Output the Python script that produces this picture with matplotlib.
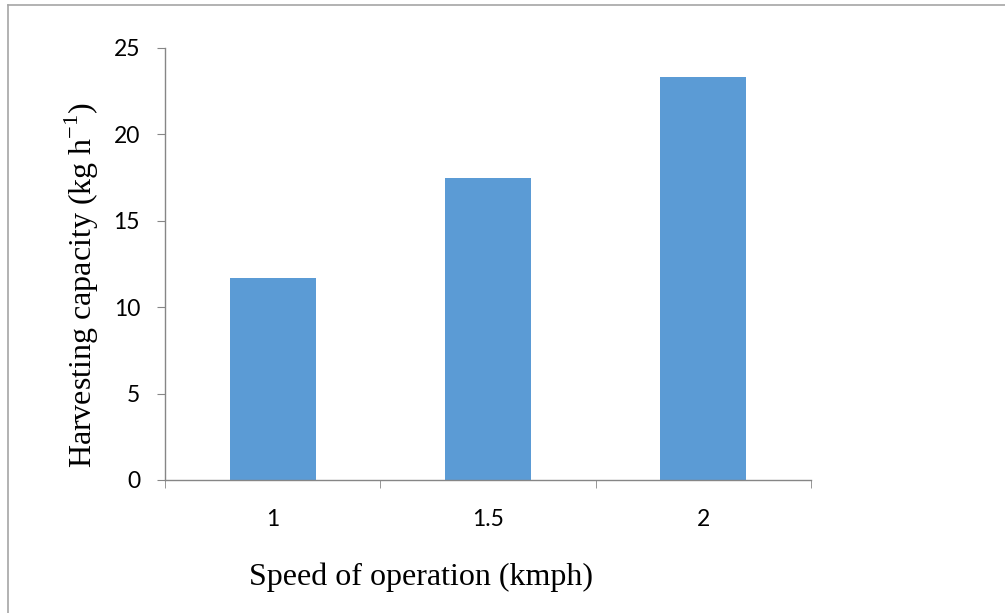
import matplotlib.pyplot as plt
from matplotlib.lines import Line2D

# ===== DATA =====
speeds = ["1", "1.5", "2"]
capacity = [11.7, 17.5, 23.3]
y_ticks = [0, 5, 10, 15, 20, 25]

# ===== FIGURE =====
W, H = 1005, 613
fig = plt.figure(figsize=(W / 100, H / 100), dpi=100)
ax = fig.add_axes([165 / W, 1 - 480 / H, (811 - 165) / W, (480 - 48) / H])

positions = list(range(len(speeds)))
ax.bar(positions, capacity, width=0.4, color="#5B9BD5", zorder=2)

ax.set_xlim(-0.5, len(speeds) - 0.5)
ax.set_ylim(0, 25)
ax.set_yticks(y_ticks)
ax.set_xticks(positions)
ax.set_xticklabels(speeds)

# category boundary ticks like Excel
ax.set_xticks([p - 0.5 for p in positions] + [len(speeds) - 0.5], minor=True)
ax.tick_params(axis="x", which="major", length=0, pad=21)
ax.tick_params(axis="x", which="minor", length=6, direction="out", color="#868686")
ax.tick_params(axis="y", length=6, direction="out", color="#868686", pad=12)

for lab in ax.get_xticklabels() + ax.get_yticklabels():
    lab.set_fontfamily("Lato")
    lab.set_fontsize(16.5)

for side in ["top", "right"]:
    ax.spines[side].set_visible(False)
for side in ["left", "bottom"]:
    ax.spines[side].set_color("#868686")
    ax.spines[side].set_linewidth(1.0)

ax.set_xlabel("Speed of operation (kmph)", family="Liberation Serif", fontsize=23)
ax.xaxis.set_label_coords((421 - 165) / 646, (480 - 577) / 432)
ax.xaxis.label.set_va("center")

ax.set_ylabel("Harvesting capacity (kg h$^{\\mathregular{-1}}$)", family="Liberation Serif", fontsize=23)
ax.yaxis.set_label_coords((82 - 165) / 646, (480 - 285) / 432)
ax.yaxis.label.set_va("center")

# chart area border (top and left edges visible)
fig.add_artist(Line2D([8 / W, 1.0], [1 - 5 / H, 1 - 5 / H], color="#a6a6a6", lw=1.2, transform=fig.transFigure))
fig.add_artist(Line2D([8 / W, 8 / W], [1 - 5 / H, 0.0], color="#a6a6a6", lw=1.2, transform=fig.transFigure))

fig.savefig("out.png", dpi=100)
